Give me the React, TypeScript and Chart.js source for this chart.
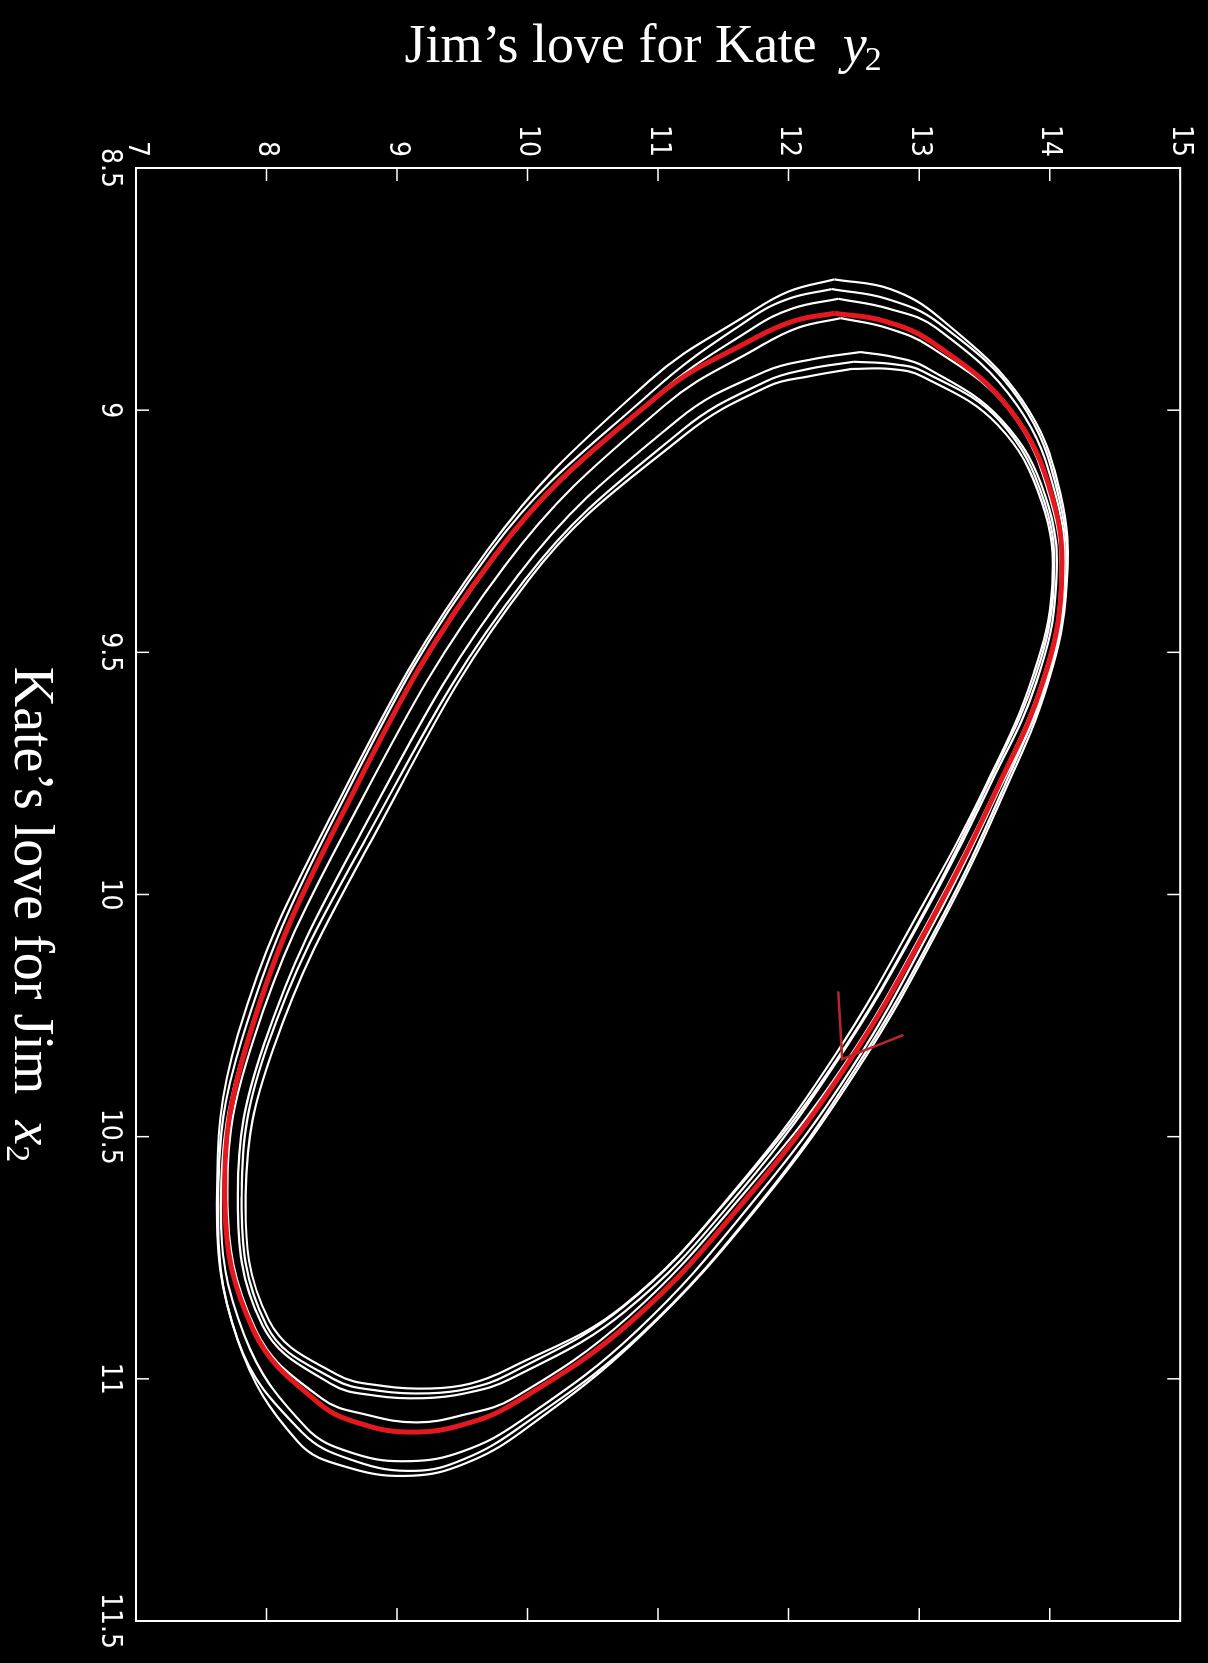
import React, { useEffect, useRef } from "react";
import { Chart, registerables } from "chart.js";

Chart.register(...registerables);

// Axis ticks
const X2_TICKS = [8.5, 9, 9.5, 10, 10.5, 11, 11.5]; // Kate's love for Jim
const Y2_TICKS = [7, 8, 9, 10, 11, 12, 13, 14, 15]; // Jim's love for Kate

// Highlighted (red) cycle
const redY2 = [12.35, 12.72, 13.10, 13.70, 14.02, 14.09, 13.95, 13.60, 13.10, 12.45, 11.70, 10.80, 9.90, 9.50, 9.12, 8.75, 8.40, 7.90, 7.68, 7.86, 8.55, 9.75, 11.00, 11.75, 12.05];
const redX2 = [8.80, 8.815, 8.86, 9.00, 9.18, 9.36, 9.56, 9.78, 10.05, 10.35, 10.62, 10.88, 11.05, 11.095, 11.11, 11.095, 11.05, 10.90, 10.63, 10.30, 9.85, 9.30, 8.97, 8.85, 8.815];

// White trajectory loops
const w1Y2 = [12.35, 12.78, 13.16, 13.79, 14.08, 14.13, 13.99, 13.65, 13.17, 12.53, 11.78, 10.87, 9.95, 9.52, 9.12, 8.65, 8.24, 7.78, 7.62, 7.78, 8.49, 9.69, 10.93, 11.70, 12.00];
const w1X2 = [8.73, 8.75, 8.81, 8.98, 9.17, 9.36, 9.56, 9.79, 10.06, 10.36, 10.64, 10.91, 11.11, 11.175, 11.20, 11.185, 11.13, 10.92, 10.64, 10.29, 9.84, 9.29, 8.94, 8.80, 8.755];

const w2Y2 = [12.33, 12.75, 13.15, 13.77, 14.07, 14.12, 13.97, 13.63, 13.15, 12.51, 11.77, 10.86, 9.94, 9.52, 9.14, 8.68, 8.27, 7.78, 7.63, 7.81, 8.52, 9.72, 10.96, 11.71, 12.00];
const w2X2 = [8.75, 8.77, 8.82, 8.98, 9.18, 9.37, 9.56, 9.79, 10.06, 10.36, 10.64, 10.91, 11.10, 11.165, 11.19, 11.17, 11.11, 10.92, 10.62, 10.30, 9.84, 9.29, 8.96, 8.81, 8.77];

const w3Y2 = [12.38, 12.76, 13.13, 13.75, 14.05, 14.11, 13.97, 13.62, 13.13, 12.48, 11.74, 10.84, 9.93, 9.50, 9.10, 8.68, 8.30, 7.83, 7.65, 7.85, 8.55, 9.76, 10.99, 11.73, 12.03];
const w3X2 = [8.77, 8.79, 8.83, 8.99, 9.18, 9.35, 9.57, 9.78, 10.05, 10.36, 10.63, 10.90, 11.09, 11.15, 11.17, 11.155, 11.10, 10.91, 10.64, 10.30, 9.85, 9.30, 8.97, 8.83, 8.79];

const w4Y2 = [12.40, 12.75, 13.09, 13.69, 14.01, 14.08, 13.94, 13.59, 13.08, 12.43, 11.68, 10.78, 9.89, 9.50, 9.15, 8.78, 8.42, 7.92, 7.70, 7.90, 8.62, 9.83, 11.05, 11.77, 12.07];
const w4X2 = [8.81, 8.83, 8.87, 9.00, 9.19, 9.37, 9.56, 9.78, 10.05, 10.35, 10.61, 10.87, 11.04, 11.075, 11.09, 11.075, 11.04, 10.90, 10.62, 10.30, 9.86, 9.32, 8.99, 8.87, 8.83];

const w5Y2 = [12.55, 12.80, 13.04, 13.63, 13.97, 14.05, 13.90, 13.55, 13.04, 12.38, 11.64, 10.75, 9.87, 9.52, 9.20, 8.84, 8.49, 7.97, 7.78, 7.98, 8.71, 9.93, 11.15, 11.82, 12.18];
const w5X2 = [8.88, 8.89, 8.91, 9.02, 9.18, 9.36, 9.56, 9.77, 10.04, 10.34, 10.61, 10.86, 11.00, 11.03, 11.04, 11.035, 11.01, 10.89, 10.62, 10.31, 9.88, 9.34, 9.02, 8.92, 8.895];

const w6Y2 = [12.50, 12.80, 13.03, 13.61, 13.96, 14.03, 13.89, 13.53, 13.03, 12.37, 11.63, 10.74, 9.86, 9.55, 9.24, 8.87, 8.51, 8.00, 7.81, 8.01, 8.75, 9.98, 11.19, 11.83, 12.15];
const w6X2 = [8.90, 8.905, 8.92, 9.02, 9.19, 9.36, 9.55, 9.77, 10.04, 10.34, 10.60, 10.85, 10.99, 11.02, 11.03, 11.025, 11.00, 10.89, 10.62, 10.31, 9.89, 9.35, 9.04, 8.94, 8.915];

const w7Y2 = [12.48, 12.78, 13.02, 13.60, 13.94, 14.02, 13.87, 13.52, 13.01, 12.36, 11.62, 10.73, 9.85, 9.56, 9.26, 8.90, 8.53, 8.02, 7.84, 8.05, 8.78, 10.01, 11.21, 11.85, 12.16];
const w7X2 = [8.915, 8.915, 8.93, 9.03, 9.19, 9.36, 9.55, 9.77, 10.03, 10.33, 10.60, 10.85, 10.98, 11.01, 11.02, 11.015, 10.99, 10.88, 10.62, 10.32, 9.90, 9.35, 9.05, 8.95, 8.93];

// Direction arrow on the red cycle
const arrowY2 = [12.38, 12.41, 12.88];
const arrowX2 = [10.20, 10.34, 10.29];

const whiteLoops = [
  [w1Y2, w1X2],
  [w2Y2, w2X2],
  [w3Y2, w3X2],
  [w4Y2, w4X2],
  [w5Y2, w5X2],
  [w6Y2, w6X2],
  [w7Y2, w7X2],
];

const TITLE_Y = "Jim\u2019s love for Kate";
const TITLE_X = "Kate\u2019s love for Jim";

function toPoints(ys: number[], xs: number[], close: boolean) {
  const pts = xs.map((x, i) => ({ x, y: ys[i] }));
  if (close) pts.push({ x: xs[0], y: ys[0] });
  return pts;
}

const TICK_FONT = "'Liberation Sans Narrow', 'DejaVu Sans Condensed', 'Liberation Sans', sans-serif";
const SERIF = "'Liberation Serif', 'Times New Roman', serif";

const framePlugin = {
  id: "frame",
  afterDatasetsDraw(chart: any) {
    const { ctx, chartArea } = chart;
    const xs = chart.scales.x;
    const ys = chart.scales.y;
    const L = 13;
    ctx.save();
    ctx.strokeStyle = "#ffffff";
    ctx.lineWidth = 2;
    ctx.strokeRect(chartArea.left, chartArea.top, chartArea.right - chartArea.left, chartArea.bottom - chartArea.top);
    ctx.lineWidth = 1.5;
    ctx.beginPath();
    X2_TICKS.forEach((v) => {
      const u = xs.getPixelForValue(v);
      ctx.moveTo(u, chartArea.bottom);
      ctx.lineTo(u, chartArea.bottom - L);
      ctx.moveTo(u, chartArea.top);
      ctx.lineTo(u, chartArea.top + L);
    });
    Y2_TICKS.forEach((v) => {
      const p = ys.getPixelForValue(v);
      ctx.moveTo(chartArea.left, p);
      ctx.lineTo(chartArea.left + L, p);
      ctx.moveTo(chartArea.right, p);
      ctx.lineTo(chartArea.right - L, p);
    });
    ctx.stroke();
    ctx.restore();
  },
  afterDraw(chart: any) {
    const { ctx, chartArea } = chart;
    ctx.save();
    ctx.fillStyle = "#ffffff";
    ctx.textAlign = "left";
    ctx.textBaseline = "alphabetic";

    // Title for y2 (appears horizontal on the rotated page)
    const s1 = 54;
    ctx.font = `${s1}px ${SERIF}`;
    const wMain = ctx.measureText(TITLE_Y).width;
    ctx.font = `italic ${s1}px ${SERIF}`;
    const wY = ctx.measureText("y").width;
    ctx.font = `34px ${SERIF}`;
    const wSub = ctx.measureText("2").width;
    const gap = 26;
    const total = wMain + gap + wY + wSub;
    const midV = (chartArea.top + chartArea.bottom) / 2 + 14;
    ctx.save();
    ctx.translate(chartArea.left - 106, midV + total / 2);
    ctx.rotate(-Math.PI / 2);
    ctx.font = `${s1}px ${SERIF}`;
    ctx.fillText(TITLE_Y, 0, 0);
    ctx.font = `italic ${s1}px ${SERIF}`;
    ctx.fillText("y", wMain + gap, 0);
    ctx.font = `34px ${SERIF}`;
    ctx.fillText("2", wMain + gap + wY - 2, 8);
    ctx.restore();

    // Title for x2 (appears vertical on the rotated page)
    const s2 = 56;
    ctx.font = `${s2}px ${SERIF}`;
    const wMain2 = ctx.measureText(TITLE_X).width;
    ctx.font = `italic ${s2}px ${SERIF}`;
    const wX = ctx.measureText("x").width;
    ctx.font = `34px ${SERIF}`;
    const wSub2 = ctx.measureText("2").width;
    const total2 = wMain2 + gap + wX + wSub2;
    const midU = (chartArea.left + chartArea.right) / 2;
    const base = chartArea.bottom + 121;
    const start = midU - total2 / 2 + 20;
    ctx.font = `${s2}px ${SERIF}`;
    ctx.fillText(TITLE_X, start, base);
    ctx.font = `italic ${s2}px ${SERIF}`;
    ctx.fillText("x", start + wMain2 + gap, base);
    ctx.font = `34px ${SERIF}`;
    ctx.fillText("2", start + wMain2 + gap + wX, base + 8);
    ctx.restore();
  },
};

export default function App() {
  const ref = useRef<HTMLCanvasElement | null>(null);

  useEffect(() => {
    document.body.style.margin = "0";
    document.body.style.background = "#000";
    const canvas = ref.current;
    if (!canvas) return;

    const datasets: any[] = [];
    datasets.push({
      label: "arrow",
      data: toPoints(arrowY2, arrowX2, false),
      borderColor: "#b8262a",
      borderWidth: 2.5,
      tension: 0,
      pointRadius: 0,
      showLine: true,
      order: 0,
    });
    datasets.push({
      label: "cycle",
      data: toPoints(redY2, redX2, true),
      borderColor: "#e3191f",
      borderWidth: 5,
      tension: 0.4,
      pointRadius: 0,
      showLine: true,
      order: 1,
    });
    whiteLoops.forEach(([ys, xs], i) => {
      datasets.push({
        label: `loop ${i + 1}`,
        data: toPoints(ys, xs, true),
        borderColor: "#ffffff",
        borderWidth: 2.2,
        tension: 0.4,
        pointRadius: 0,
        showLine: true,
        order: 2,
      });
    });

    const tickFont = { family: TICK_FONT, size: 28 };

    const chart = new Chart(canvas, {
      type: "scatter",
      data: { datasets },
      options: {
        animation: false,
        responsive: false,
        devicePixelRatio: 1,
        layout: { padding: { top: 23, right: 42, left: 0, bottom: 0 } },
        plugins: {
          legend: { display: false },
          tooltip: { enabled: false },
        },
        scales: {
          x: {
            type: "linear",
            position: "bottom",
            min: 8.5,
            max: 11.5,
            afterFit: (s: any) => {
              s.height = 136;
            },
            afterBuildTicks: (s: any) => {
              s.ticks = X2_TICKS.map((v) => ({ value: v }));
            },
            ticks: {
              color: "#ffffff",
              font: tickFont,
              padding: 10,
              maxRotation: 0,
              minRotation: 0,
              autoSkip: false,
              callback: (v: any) => String(v),
            },
            grid: { display: false, drawTicks: false },
            border: { display: false },
          },
          y: {
            type: "linear",
            position: "left",
            min: 7,
            max: 15,
            afterFit: (s: any) => {
              s.width = 168;
            },
            afterBuildTicks: (s: any) => {
              s.ticks = Y2_TICKS.map((v) => ({ value: v }));
            },
            ticks: {
              color: "#ffffff",
              font: tickFont,
              padding: 11,
              autoSkip: false,
              callback: (v: any) => String(v),
            },
            grid: { display: false, drawTicks: false },
            border: { display: false },
          },
        },
      },
      plugins: [framePlugin],
    } as any);

    return () => chart.destroy();
  }, []);

  return (
    <div style={{ position: "relative", width: 1208, height: 1663, background: "#000", overflow: "hidden" }}>
      <canvas
        ref={ref}
        width={1663}
        height={1208}
        style={{
          position: "absolute",
          left: 0,
          top: 0,
          width: 1663,
          height: 1208,
          transformOrigin: "0 0",
          transform: "translate(1208px, 0px) rotate(90deg)",
        }}
      />
    </div>
  );
}
